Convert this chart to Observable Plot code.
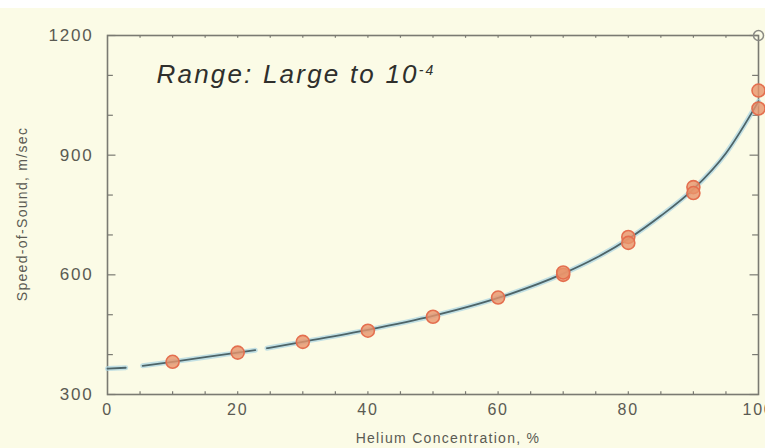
<!DOCTYPE html>
<html><head><meta charset="utf-8">
<script src="https://cdn.jsdelivr.net/npm/d3@7"></script>
<script src="https://cdn.jsdelivr.net/npm/@observablehq/plot@0.6"></script>
<style>
html,body{margin:0;padding:0;background:#fbfbe6;}
#chart{width:765px;height:448px;overflow:hidden;border-top:8px solid #ffffff;box-sizing:border-box;}
</style></head><body><div id="chart"></div>
<script>
// measured points (helium concentration %, speed m/s)
const ptX = [10, 20, 30, 40, 50, 60, 70, 70, 80, 80, 90, 90, 100, 100];
const ptY = [382, 405, 432, 460, 495, 543, 600, 606, 695, 680, 820, 805, 1062, 1017];
// theory curve (NaN marks gaps in the drawn line)
const lineX = [0, 2.8, 2.9, 5.4, 10, 20, 22.7, 22.8, 24.5, 30, 40, 50, 60, 70, 75, 80, 85, 90, 95, 100];
const lineY = [365, 367, NaN, 372, 382, 405, 411, NaN, 416, 432, 462, 497, 542, 603, 642, 690, 748, 815, 905, 1035];
const refX = [100], refY = [1200];
const xTicks = [0, 20, 40, 60, 80, 100];
const xMinor = d3.range(5, 100, 5);
const yTicks = [300, 600, 900, 1200];
const yMinor = [400, 500, 700, 800, 1000, 1100];
const title = "Range: Large to 10";
const titleSup = "-4";
const xLabel = "Helium Concentration, %";
const yLabel = "Speed-of-Sound, m/sec";

const pts = ptX.map((x, i) => ({x, y: ptY[i]}));
const curve = lineX.map((x, i) => ({x, y: lineY[i]}));
const ref = refX.map((x, i) => ({x, y: refY[i]}));

const axisCol = "#7a7a72";
const labCol = "#5a5a52";
const chart = Plot.plot({
  width: 765, height: 440,
  marginLeft: 107, marginRight: 7, marginTop: 27, marginBottom: 54,
  style: {background: "transparent", fontFamily: "Liberation Sans, Arial, sans-serif"},
  x: {domain: [0, 100], label: null},
  y: {domain: [300, 1200], label: null},
  marks: [
    Plot.axisX({ticks: xTicks, tickSize: 0, tickPadding: 9, fontSize: 16, color: labCol, label: null}),
    Plot.axisY({ticks: yTicks, tickSize: 0, tickPadding: 14, fontSize: 17, color: labCol, label: null, tickFormat: d3.format("d")}),
    // inward ticks: bottom/top
    Plot.ruleX(xMinor, {x: d => d, y1: 300, y2: 307, stroke: axisCol, strokeWidth: 1.2}),
    Plot.ruleX(xMinor, {x: d => d, y1: 1200, y2: 1193, stroke: axisCol, strokeWidth: 1.2}),
    // inward ticks: left/right
    Plot.ruleY(yMinor, {y: d => d, x1: 0, x2: 0.9, stroke: axisCol, strokeWidth: 1.2}),
    Plot.ruleY(yTicks, {y: d => d, x1: 0, x2: 1.3, stroke: axisCol, strokeWidth: 1.2}),
    Plot.ruleY(yMinor, {y: d => d, x1: 100, x2: 99.1, stroke: axisCol, strokeWidth: 1.2}),
    Plot.ruleY(yTicks, {y: d => d, x1: 100, x2: 98.7, stroke: axisCol, strokeWidth: 1.2}),
    Plot.frame({stroke: axisCol, strokeWidth: 1.6}),
    Plot.line(curve, {x: "x", y: "y", stroke: "#a9d4e2", strokeWidth: 5, strokeOpacity: 0.7, curve: "monotone-x"}),
    Plot.line(curve, {x: "x", y: "y", stroke: "#4d6468", strokeWidth: 1.8, curve: "monotone-x"}),
    Plot.dot(pts, {x: "x", y: "y", r: 6.5, fill: "#e9946a", fillOpacity: 0.8, stroke: "#e46f4f", strokeWidth: 1.6}),
    Plot.dot(ref, {x: "x", y: "y", r: 5, fill: "none", stroke: "#8a8a84", strokeWidth: 1.5}),
    Plot.text([title], {frameAnchor: "top-left", text: d => d, dx: 49, dy: 29, fontSize: 26, fontStyle: "italic", fill: "#2f2f2c", textAnchor: "start", className: "ttl"}),
    Plot.text([xLabel], {frameAnchor: "bottom", text: d => d, dx: 15, dy: 48, fontSize: 14, fill: labCol, className: "xl"}),
    Plot.text([yLabel], {frameAnchor: "left", text: d => d, dx: -85, dy: -1, rotate: -90, fontSize: 14, textAnchor: "middle", fill: labCol, className: "yl"})
  ]
});
document.getElementById("chart").appendChild(chart);
d3.select(chart).selectAll("g.ttl text").attr("letter-spacing", 2.2);
d3.select(chart).selectAll("g.xl text, g.yl text").attr("letter-spacing", 1.3);
d3.select(chart).selectAll("g[aria-label^='x-axis tick label'] text, g[aria-label^='y-axis tick label'] text").attr("letter-spacing", 1.8);
// superscript exponent
d3.select(chart).selectAll("g.ttl text").append("tspan")
  .attr("dy", "-0.55em").attr("font-size", 14).text(titleSup);
</script></body></html>
